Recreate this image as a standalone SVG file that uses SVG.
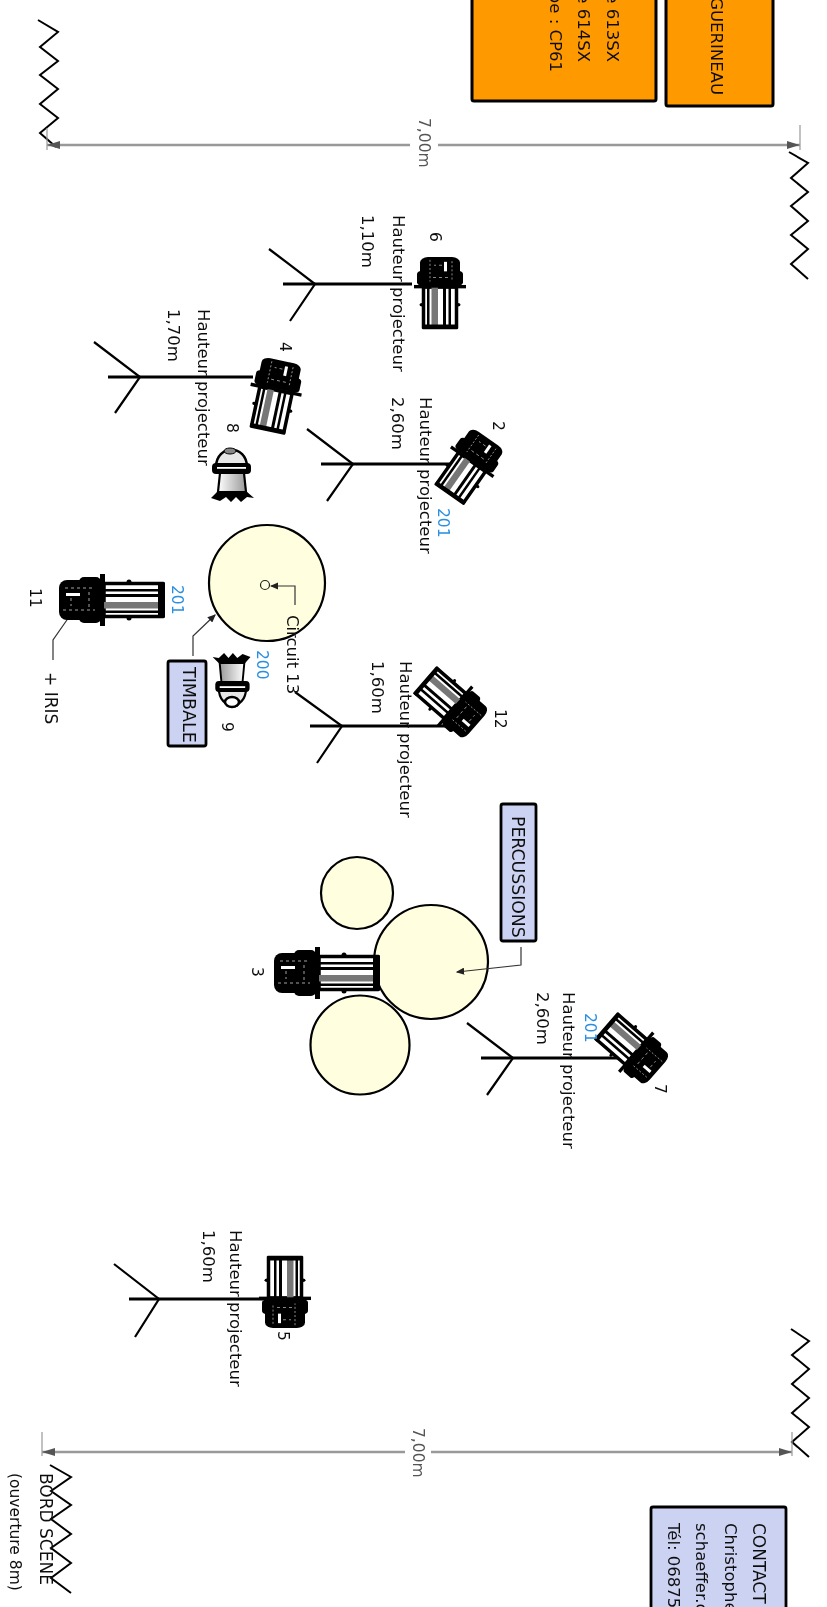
<svg xmlns="http://www.w3.org/2000/svg" xmlns:xlink="http://www.w3.org/1999/xlink" width="827" height="1607" viewBox="0 0 827 1607">
<style>
text{font-family:"DejaVu Sans","Liberation Sans",sans-serif;font-size:16.5px;fill:#111}
.blue{fill:#2a8fe0}
.dimt{fill:#555;font-size:15.5px}
.num{font-size:15.5px}
.box{fill:#ccd2f2;stroke:#000;stroke-width:2.8}
.or{fill:#ff9900;stroke:#000;stroke-width:3}
.c{fill:#ffffe0;stroke:#000;stroke-width:2.2}
.zig{fill:none;stroke:#000;stroke-width:2}
.st{fill:none;stroke:#000;stroke-width:2.2}
.stm{fill:none;stroke:#000;stroke-width:3}
.ld{fill:none;stroke:#333;stroke-width:1.2}
.dim{fill:none;stroke:#999;stroke-width:2.6}
.tick{fill:none;stroke:#999;stroke-width:1.2}
</style>
<defs>
<filter id="soft" x="0" y="0" width="827" height="1607" filterUnits="userSpaceOnUse"><feGaussianBlur stdDeviation="0.55"/></filter>
<marker id="a" markerWidth="7" markerHeight="6" refX="6" refY="3" orient="auto"><path d="M0,0L7,3L0,6z" fill="#222"/></marker>
<linearGradient id="gr" x1="0" x2="1" y1="0" y2="0"><stop offset="0" stop-color="#fff"/><stop offset="1" stop-color="#999"/></linearGradient>
<g id="proj">
<rect x="-44" y="-20" width="30" height="40" rx="8" fill="#000"/>
<rect x="-24" y="-23" width="22" height="46" rx="5" fill="#000"/>
<rect x="-37" y="-7" width="14" height="3" fill="#fff"/>
<path d="M-38,-12H-10M-40,10H-8M-14,-8V8M-32,-2V6" fill="none" stroke="#ccc" stroke-width=".8" stroke-dasharray="3 3"/>
<rect x="-3" y="-26" width="5" height="52" fill="#000"/>
<rect x="1" y="-16.500" width="58" height="33" fill="#fff" stroke="#000" stroke-width="3.500"/>
<rect x="1" y="-11" width="58" height="2.500" fill="#000"/>
<rect x="1" y="-6" width="58" height="3" fill="#000"/>
<rect x="1" y="2" width="58" height="6.500" fill="#777"/>
<rect x="1" y="10.500" width="58" height="2.500" fill="#000"/>
<rect x="55" y="-18" width="7" height="36" rx="1" fill="#000"/>
<circle cx="26" cy="-18" r="2.500" fill="#000"/><circle cx="26" cy="18" r="2.500" fill="#000"/>
</g>
<g id="spot">
<path d="M-16,-5C-16,-28 15,-28 15,-5Z" fill="#e8e8e8" stroke="#000" stroke-width="2.500"/>
<ellipse cx="-2" cy="-21" rx="6" ry="3" fill="#888" stroke="#000"/>
<rect x="-20" y="-9" width="39" height="11" rx="4" fill="#000"/>
<rect x="-15" y="-5" width="29" height="1.800" fill="#fff"/>
<path d="M-12,1H12L14,20H-14Z" fill="url(#gr)" stroke="#000" stroke-width="2.200"/>
<path d="M-21,26L-14,19H14L22,26L15,25L9,30L4,25L-1,30L-6,25L-12,29Z" fill="#000"/>
</g>
</defs>
<g filter="url(#soft)">
<g id="zigzags">
<path class="zig" d="M38,20L58,32L40,47L58,61L40,75L58,89L40,104L58,118L40,133L56,147"/>
<path class="zig" d="M789,152L808,163L791,178L808,192L791,206L808,221L791,235L808,249L791,264L808,279"/>
<path class="zig" d="M791,1329L809,1341L792,1355L809,1369L792,1384L809,1398L792,1413L809,1427L792,1442L809,1457"/>
<path class="zig" d="M50,1465L71,1477L51,1491L71,1505L51,1519L71,1534L51,1548L71,1563L51,1578L71,1593"/>
</g>
<g id="stands">
<path class="stm" d="M283,284H412"/><path class="st" d="M269,249L315,284L290,321"/>
<path class="stm" d="M108,377H253"/><path class="st" d="M94,342L140,377L115,413"/>
<path class="stm" d="M321,464H452"/><path class="st" d="M307,429L353,464L327,501"/>
<path class="stm" d="M310,726H450"/><path class="st" d="M295,692L342,726L317,763"/>
<path class="stm" d="M481,1058H623"/><path class="st" d="M467,1023L513,1058L487,1095"/>
<path class="stm" d="M129,1299H263"/><path class="st" d="M114,1264L159,1299L135,1337"/>
</g>
<g id="timbale"><circle class="c" cx="267" cy="583" r="58"/><circle cx="265" cy="585" r="4.500" fill="none" stroke="#222" stroke-width="1.200"/></g>
<g id="percussions">
<circle class="c" cx="357" cy="893" r="36"/>
<circle class="c" cx="360" cy="1045" r="49.500"/>
<circle class="c" cx="431" cy="962" r="57"/>
</g>
<g id="connectors">
<path class="dim" d="M47,145H410M438,145H800"/>
<path d="M47,145l13,-4v8zM800,145l-13,-4v8z" fill="#555"/>
<path class="tick" d="M47,128V150M800,125V150"/>
<path class="dim" d="M42,1452H405M431,1452H792"/>
<path d="M42,1452l13,-4v8zM792,1452l-13,-4v8z" fill="#555"/>
<path class="tick" d="M42,1432V1456M792,1432V1456"/>
<path class="ld" d="M295,605V586H271" marker-end="url(#a)"/>
<path class="ld" d="M193,656V636L215,615" marker-end="url(#a)"/>
<path class="ld" d="M69,617L53,640V660"/>
<path class="ld" d="M521,947V965L457,972" marker-end="url(#a)"/>
</g>
<g id="proj6"><use xlink:href="#proj" href="#proj" transform="translate(440,287) rotate(90) scale(.68,1)"/><text class="num" transform="translate(430,232) rotate(90)">6</text></g>
<g id="proj4"><use xlink:href="#proj" href="#proj" transform="translate(276,390) rotate(102) scale(.68,1)"/><text class="num" transform="translate(280,342) rotate(90)">4</text></g>
<g id="proj2"><use xlink:href="#proj" href="#proj" transform="translate(472,462) rotate(125) scale(.65,1)"/><text class="num" transform="translate(493,421) rotate(90)">2</text></g>
<g id="proj12"><use xlink:href="#proj" href="#proj" transform="translate(455,706) rotate(221) scale(.65,1)"/><text class="num" transform="translate(495,709) rotate(90)">12</text></g>
<g id="proj7"><use xlink:href="#proj" href="#proj" transform="translate(636,1052) rotate(221) scale(.65,1)"/><text class="num" transform="translate(655,1084) rotate(90)">7</text></g>
<g id="proj5"><use xlink:href="#proj" href="#proj" transform="translate(285,1298) rotate(-90) scale(.68,1)"/><text class="num" transform="translate(278,1331) rotate(90)">5</text></g>
<g id="proj11"><use xlink:href="#proj" href="#proj" transform="translate(103,600)"/><text class="num" transform="translate(30,588) rotate(90)">11</text></g>
<g id="proj3"><use xlink:href="#proj" href="#proj" transform="translate(318,973)"/><text class="num" transform="translate(252,967) rotate(90)">3</text></g>
<g id="spot8"><use xlink:href="#spot" href="#spot" transform="translate(232,472)"/><text class="num" transform="translate(227,423) rotate(90)">8</text></g>
<g id="spot9"><use xlink:href="#spot" href="#spot" transform="translate(232,683) rotate(180) scale(.88,1)"/><ellipse cx="232" cy="702" rx="7" ry="5" fill="#fff" stroke="#000" stroke-width="2.500"/><text class="num" transform="translate(222,722) rotate(90)">9</text></g>
<g id="label-timbale"><rect class="box" x="168" y="661" width="38" height="85" rx="2"/><text style="font-size:17.5px" transform="translate(183,667) rotate(90)">TIMBALE</text></g>
<g id="label-percussions"><rect class="box" x="501" y="804" width="35" height="137" rx="2"/><text style="font-size:17.3px" transform="translate(512,816) rotate(90)">PERCUSSIONS</text></g>
<g id="box-contact"><rect class="box" x="651" y="1507" width="135" height="120" rx="2"/>
<text style="font-size:17px" transform="translate(753,1523) rotate(90)">CONTACT</text>
<text transform="translate(725,1523) rotate(90)">Christophe</text>
<text transform="translate(696,1523) rotate(90)">schaeffer.c</text>
<text transform="translate(668,1523) rotate(90)">Tél: 06875</text></g>
<g id="box-orange1"><rect class="or" x="472" y="-20" width="184" height="121" rx="2"/>
<text text-anchor="end" transform="translate(607,62) rotate(90)">e 613SX</text>
<text text-anchor="end" transform="translate(578,62) rotate(90)">e 614SX</text>
<text text-anchor="end" transform="translate(550,72) rotate(90)">pe : CP61</text></g>
<g id="box-orange2"><rect class="or" x="666" y="-20" width="107" height="126" rx="2"/>
<text text-anchor="end" transform="translate(711,95) rotate(90)">GUERINEAU</text></g>
<g id="labels">
<text transform="translate(393,215) rotate(90)">Hauteur projecteur</text><text transform="translate(362,215) rotate(90)">1,10m</text>
<text transform="translate(198,309) rotate(90)">Hauteur projecteur</text><text transform="translate(168,309) rotate(90)">1,70m</text>
<text transform="translate(420,397) rotate(90)">Hauteur projecteur</text><text transform="translate(392,397) rotate(90)">2,60m</text>
<text transform="translate(400,661) rotate(90)">Hauteur projecteur</text><text transform="translate(372,661) rotate(90)">1,60m</text>
<text transform="translate(563,992) rotate(90)">Hauteur projecteur</text><text transform="translate(537,992) rotate(90)">2,60m</text>
<text transform="translate(230,1230) rotate(90)">Hauteur projecteur</text><text transform="translate(203,1230) rotate(90)">1,60m</text>
<text transform="translate(287,615) rotate(90)">Circuit 13</text>
<text style="font-size:17px" transform="translate(45,672) rotate(90)">+ IRIS</text>
<text class="blue" transform="translate(438,508) rotate(90)" style="font-size:15.5px">201</text>
<text class="blue" transform="translate(172,585) rotate(90)" style="font-size:15.5px">201</text>
<text class="blue" transform="translate(257,650) rotate(90)" style="font-size:15.5px">200</text>
<text class="blue" transform="translate(585,1013) rotate(90)" style="font-size:15.5px">201</text>
<text class="dimt" transform="translate(419,118) rotate(90)">7,00m</text>
<text class="dimt" transform="translate(413,1428) rotate(90)">7,00m</text>
<text style="font-size:17px" transform="translate(40,1473) rotate(90)">BORD SCENE</text>
<text style="font-size:15.5px" transform="translate(10,1473) rotate(90)">(ouverture 8m)</text>
</g>
</g>
</svg>
